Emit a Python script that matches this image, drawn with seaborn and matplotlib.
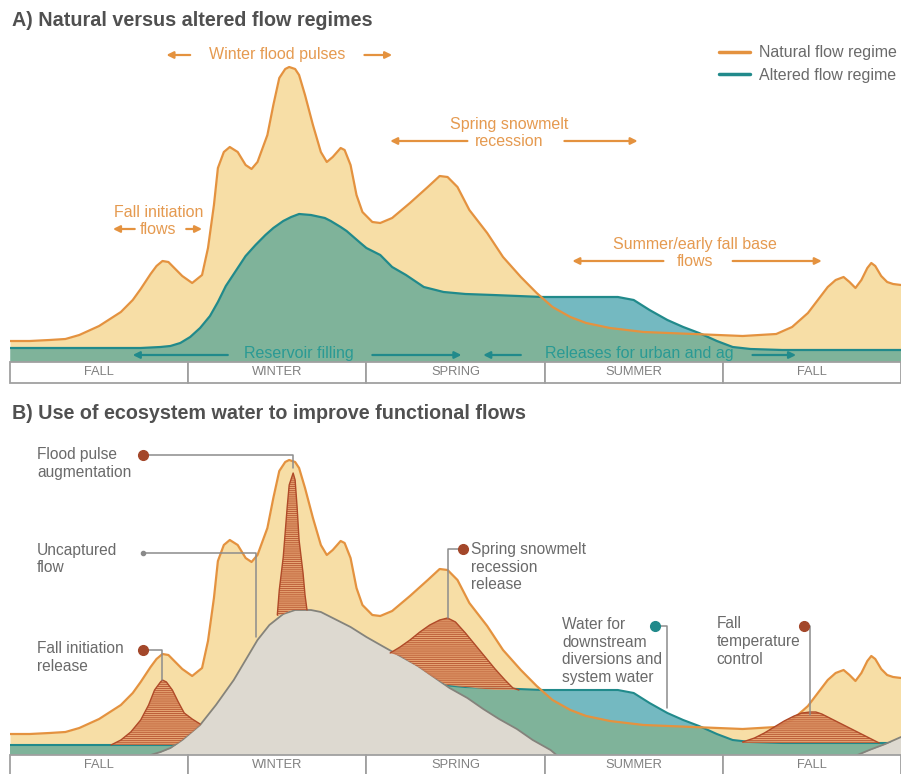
import numpy as np
import matplotlib
matplotlib.use("Agg")
import matplotlib.pyplot as plt
import seaborn as sns

# ---------------- data ----------------
seasons = ["FALL", "WINTER", "SPRING", "SUMMER", "FALL"]
season_start = [0, 90, 180, 270, 360]
season_len = 90

# natural flow regime (day of timeline, flow units)
nat_day = [0, 10, 20, 28, 35, 45, 56, 62, 66, 71, 74, 77, 80, 82, 87, 92, 97, 100, 103, 105, 108,
           111, 115, 119, 122, 125, 130, 133, 136, 139, 141, 144, 146, 149, 153, 157, 160, 163,
           167, 169, 172, 175, 178, 183, 187, 193, 202, 211, 217, 221, 226, 232, 241, 249, 258,
           266, 274, 283, 291, 303, 320, 345, 370, 387, 395, 403, 408, 413, 417, 421, 424, 427,
           430, 433, 435, 437, 440, 443, 446, 450]
nat_flow = [21, 21, 22, 23, 27, 36, 50, 62, 73, 88, 96, 101, 100, 96, 86, 79, 87, 114, 157, 194,
            210, 215, 210, 197, 193, 200, 227, 257, 284, 293, 295, 293, 287, 267, 237, 210, 200,
            205, 214, 212, 197, 167, 150, 140, 139, 144, 159, 175, 186, 185, 175, 152, 129, 105,
            85, 69, 55, 45, 39, 34, 30, 28, 26, 28, 35, 49, 62, 75, 82, 85, 80, 74,
            82, 94, 99, 96, 86, 80, 78, 77]

# altered flow regime
alt_day = [0, 20, 45, 66, 76, 81, 86, 91, 96, 101, 105, 109, 115, 119, 124, 129, 133, 138, 142,
           146, 152, 159, 162, 167, 170, 177, 180, 187, 193, 200, 209, 219, 230, 244, 269, 290,
           307, 315, 323, 332, 340, 348, 357, 365, 374, 390, 450]
alt_flow = [14, 14, 14, 14, 15, 16, 19, 25, 34, 46, 60, 76, 94, 106, 117, 127, 134, 141, 145,
            148, 147, 144, 141, 135, 131, 119, 114, 107, 95, 87, 75, 70, 68, 67, 65, 65,
            65, 62, 52, 42, 35, 29, 21, 15, 13, 12, 12]

# panel B: altered base flow in early fall
altb_day = [0, 50, 90]
altb_flow = [10, 10, 10]

# panel B: uncaptured / stored flow (grey)
grey_day = [71, 76, 81, 87, 96, 104, 113, 119, 125, 131, 138, 144, 152, 157, 163, 172, 180, 188,
            197, 206, 214, 222, 231, 239, 247, 256, 264, 273, 276]
grey_flow = [0, 3, 7, 15, 30, 50, 75, 95, 115, 130, 141, 145, 145, 143, 137, 128, 118, 109,
             99, 89, 78, 67, 57, 46, 36, 26, 15, 5, 0]
grey2_day = [428, 434, 442, 450]
grey2_flow = [0, 5, 11, 18]

# panel B: ecosystem water releases
rel_fall_day = [51, 56, 61, 66, 70, 73, 76, 77, 79, 82, 85, 88, 92, 96]
rel_fall_top = [10, 15, 23, 35, 50, 65, 73, 75, 73, 65, 53, 42, 36, 31]
rel_fall_bot = [10, 10, 10, 10, 10, 10, 10, 10, 10, 10, 12, 17, 23, 30]

rel_flood_day = [135, 136, 138, 140, 141, 143, 144, 145, 146, 148, 149, 150]
rel_flood_top = [140, 165, 198, 248, 270, 282, 275, 248, 215, 182, 160, 145]
rel_flood_bot = [139, 140, 141, 143, 144, 145, 145, 145, 145, 145, 145, 145]

rel_spring_day = [192, 197, 202, 207, 212, 217, 221, 225, 230, 235, 240, 245, 250, 254, 257]
rel_spring_top = [102, 108, 115, 123, 130, 135, 137, 133, 122, 110, 98, 86, 75, 67, 65]
rel_spring_bot = [102, 99, 93, 87, 80, 74, 70, 69, 68, 67, 66, 65, 65, 65, 65]

rel_temp_day = [370, 376, 381, 386, 391, 396, 400, 404, 407, 410, 414, 419, 424, 429, 434, 439]
rel_temp_top = [13, 17, 22, 28, 34, 39, 42, 43, 43, 41, 37, 32, 27, 22, 17, 12]
rel_temp_bot = [12, 12, 12, 12, 12, 12, 12, 12, 12, 12, 12, 12, 12, 12, 12, 12]

# ---------------- style ----------------
sns.set_theme(style="white")
plt.rcParams["font.family"] = ["Liberation Sans", "DejaVu Sans"]
plt.rcParams["hatch.linewidth"] = 0.7
plt.rcParams["hatch.color"] = "#B4502C"
plt.rcParams["lines.solid_joinstyle"] = "round"

TAN = "#F7DEA6"
ORANGE = "#E4923F"
ORANGE_TXT = "#E59A50"
TEAL = "#218A8B"
TEAL_TXT = "#2A9A94"
GREEN = "#7FB39A"
BLUE = "#74B9C1"
GREY_FILL = "#DDD9D0"
GREY_EDGE = "#84837C"
RED_FILL = "#E59C6C"
RED_EDGE = "#B04A28"
DOT = "#A3472A"
TXT = "#6A6A6A"
LEADER = "#8C8C8C"
FS = 11.5

fig = plt.figure(figsize=(9.01, 7.74), dpi=100)
axA = fig.add_axes([10 / 901, (774 - 383) / 774, 891 / 901, 343 / 774])
axB = fig.add_axes([10 / 901, (774 - 776) / 774, 891 / 901, 361 / 774])
axA.set_xlim(0, 450)
axA.set_ylim(-21, 322)
axB.set_xlim(0, 450)
axB.set_ylim(-21, 340)
for ax in (axA, axB):
    ax.set_axis_off()


def season_bar(ax):
    centers = [s + season_len / 2 for s in season_start]
    ax.bar(centers, 21, bottom=-21, width=season_len, color="white",
           edgecolor="#A0A0A0", linewidth=1.3, zorder=10, clip_on=False)
    for c, name in zip(centers, seasons):
        ax.text(c, -10.5, name, ha="center", va="center", fontsize=9.3,
                color="#808080", zorder=11)


def flows(ax, alt_segments):
    nat = ax.fill_between(nat_day, 0, nat_flow, color=TAN, lw=0, zorder=1)
    clip = nat.get_paths()[0]
    for xd, yd in alt_segments:
        ax.fill_between(xd, 0, yd, color=BLUE, lw=0, zorder=2)
        g = ax.fill_between(xd, 0, yd, color=GREEN, lw=0, zorder=3)
        g.set_clip_path(clip, ax.transData)
    return nat


# ---------------- panel A ----------------
flows(axA, [(alt_day, alt_flow)])
sns.lineplot(x=alt_day, y=alt_flow, ax=axA, color=TEAL, lw=1.6, sort=False,
             estimator=None, zorder=4, label="Altered flow regime")
sns.lineplot(x=nat_day, y=nat_flow, ax=axA, color=ORANGE, lw=1.6, sort=False,
             estimator=None, zorder=5, label="Natural flow regime")
season_bar(axA)

h, l = axA.get_legend_handles_labels()
leg = axA.legend(h[::-1], l[::-1], loc="upper right", bbox_to_anchor=(0.9955, 0.985),
                 frameon=False, fontsize=FS, handlelength=1.9, handletextpad=0.6,
                 labelspacing=0.49, borderpad=0, borderaxespad=0)
for t in leg.get_texts():
    t.set_color(TXT)
for ln in leg.get_lines():
    ln.set_linewidth(2.5)

fig.text(12 / 901, 1 - 20 / 774, "A) Natural versus altered flow regimes", fontsize=14.2,
         fontweight="bold", color="#505050", va="center", ha="left")
fig.text(12 / 901, 1 - 414 / 774, "B) Use of ecosystem water to improve functional flows",
         fontsize=14.2, fontweight="bold", color="#505050", va="center", ha="left")


def arrow(ax, x0, x1, y, color):
    ax.annotate("", xy=(x1, y), xytext=(x0, y),
                arrowprops=dict(arrowstyle="-|>", color=color, lw=1.6,
                                mutation_scale=10, shrinkA=0, shrinkB=0), zorder=12)


axA.text(135, 308, "Winter flood pulses", ha="center", va="center", fontsize=FS, color=ORANGE_TXT)
arrow(axA, 91, 79, 307, ORANGE)
arrow(axA, 179, 193, 307, ORANGE)

axA.text(252, 229, "Spring snowmelt\nrecession", ha="center", va="center", fontsize=FS,
         color=ORANGE_TXT, linespacing=1.12)
arrow(axA, 231, 192, 221, ORANGE)
arrow(axA, 280, 317, 221, ORANGE)

axA.text(75, 141, "Fall initiation\nflows", ha="center", va="center", fontsize=FS,
         color=ORANGE_TXT, linespacing=1.12)
arrow(axA, 63, 52, 133, ORANGE)
arrow(axA, 89, 97, 133, ORANGE)

axA.text(346, 109, "Summer/early fall base\nflows", ha="center", va="center", fontsize=FS,
         color=ORANGE_TXT, linespacing=1.12)
arrow(axA, 330, 284, 101, ORANGE)
arrow(axA, 365, 410, 101, ORANGE)

axA.text(146, 8, "Reservoir filling", ha="center", va="center", fontsize=FS,
         color=TEAL_TXT, zorder=12)
arrow(axA, 110, 62, 7, TEAL)
arrow(axA, 183, 228, 7, TEAL)
axA.text(318, 8, "Releases for urban and ag", ha="center", va="center", fontsize=FS,
         color=TEAL_TXT, zorder=12)
arrow(axA, 258, 239, 7, TEAL)
arrow(axA, 375, 397, 7, TEAL)

# ---------------- panel B ----------------
alt_day_arr = np.array(alt_day)
alt_flow_arr = np.array(alt_flow)
spring_mask = alt_day_arr >= 197
segments = [(altb_day, altb_flow), (alt_day_arr[spring_mask], alt_flow_arr[spring_mask])]
flows(axB, segments)
for xd, yd in segments:
    axB.plot(xd, yd, color=TEAL, lw=1.5, zorder=4)
sns.lineplot(x=nat_day, y=nat_flow, ax=axB, color=ORANGE, lw=1.6, sort=False,
             estimator=None, zorder=5, legend=False)

for gd, gf in [(grey_day, grey_flow), (grey2_day, grey2_flow)]:
    axB.fill_between(gd, 0, gf, color=GREY_FILL, lw=0, zorder=6)
    axB.plot(gd, gf, color=GREY_EDGE, lw=1.3, zorder=6)

for rd, rt, rb in [(rel_fall_day, rel_fall_top, rel_fall_bot),
                   (rel_flood_day, rel_flood_top, rel_flood_bot),
                   (rel_spring_day, rel_spring_top, rel_spring_bot),
                   (rel_temp_day, rel_temp_top, rel_temp_bot)]:
    axB.fill_between(rd, rb, rt, facecolor=RED_FILL, edgecolor="#B4502C", hatch="-" * 8,
                     lw=0, alpha=0.85, zorder=7)
    axB.plot(rd, rt, color=RED_EDGE, lw=1.0, zorder=8)

season_bar(axB)

callouts = [
    ("Flood pulse\naugmentation", (13.6, 291.5), (67, 300), (143, 287), DOT, 7),
    ("Uncaptured\nflow", (13.6, 196), (67, 202), (124, 118), "#8A8A8A", 3),
    ("Fall initiation\nrelease", (13.6, 97.5), (67, 105), (77, 75), DOT, 7),
    ("Spring snowmelt\nrecession\nrelease", (233, 188), (229, 206), (221, 137), DOT, 7),
    ("Water for\ndownstream\ndiversions and\nsystem water", (279, 104), (326, 129), (332, 47), TEAL, 7),
    ("Fall\ntemperature\ncontrol", (357, 113.5), (401, 129), (404, 40), DOT, 7),
]
for text, tpos, dpos, target, dcol, msz in callouts:
    axB.text(tpos[0], tpos[1], text, ha="left", va="center", fontsize=11.2, color=TXT,
             linespacing=1.24, zorder=12)
    axB.annotate("", xy=target, xytext=dpos,
                 arrowprops=dict(arrowstyle="-", color=LEADER, lw=1.1, shrinkA=0, shrinkB=0,
                                 connectionstyle="angle,angleA=0,angleB=90,rad=0"), zorder=11)
    axB.plot([dpos[0]], [dpos[1]], marker="o", markersize=msz, color=dcol, zorder=13)

fig.savefig("out.png", dpi=100)
